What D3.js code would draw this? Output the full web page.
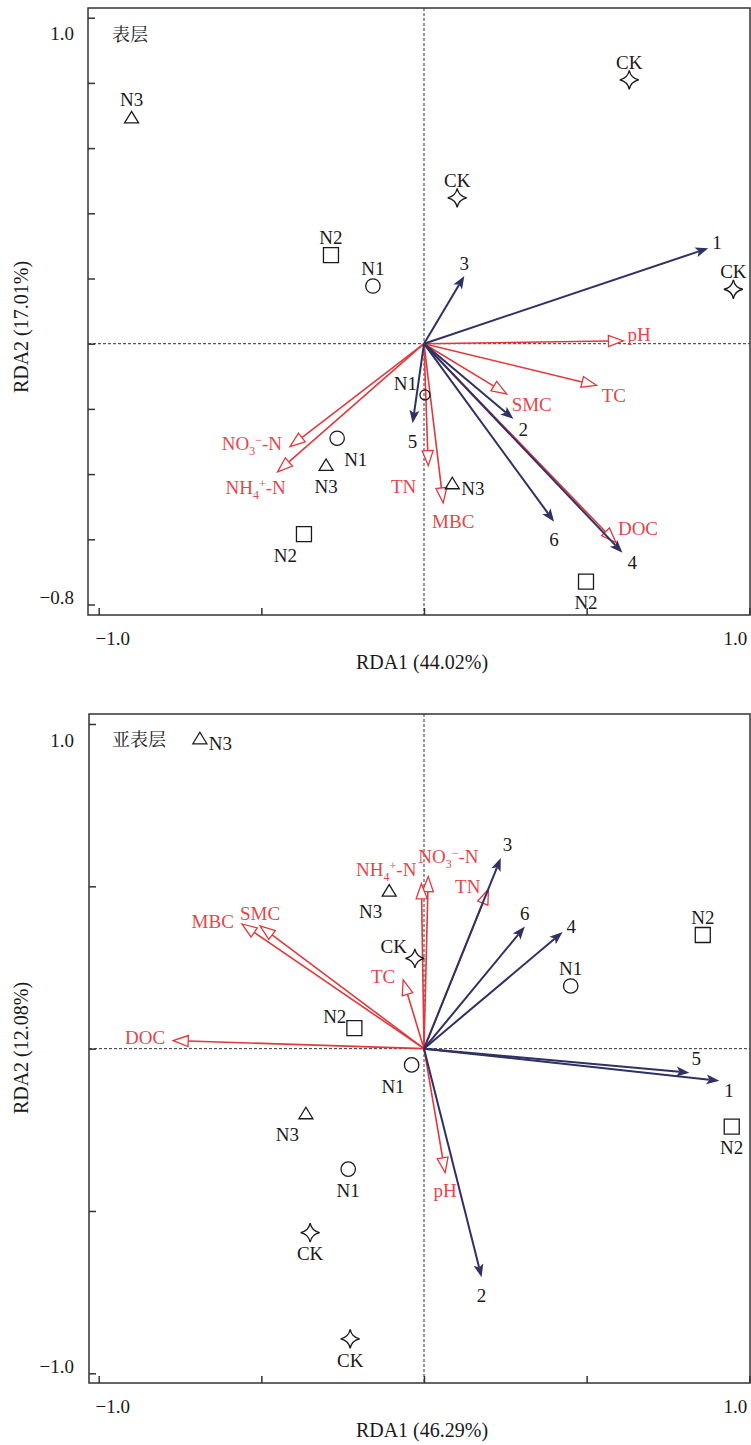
<!DOCTYPE html>
<html>
<head>
<meta charset="utf-8">
<script src="https://cdn.jsdelivr.net/npm/d3@7"></script>
<style>
  body { margin: 0; background: #fff; }
</style>
</head>
<body>
<svg id="chart" width="751" height="1445"></svg>
<script>
/* global d3 */

// ---- 表层 : samples
var topSiteNames  = ['N3', 'N2', 'N1', 'CK', 'CK', 'CK', 'N1', 'N3', 'N2', 'N1', 'N3', 'N2'];
var topSiteShapes = ['triangle', 'square', 'circle', 'star', 'star', 'star', 'circle', 'triangle', 'square', 'dot', 'triangle', 'square'];
var topSiteX = [-0.899, -0.286, -0.157, 0.631, 0.102, 0.951, -0.267, -0.301, -0.369, 0.003, 0.087, 0.498];
var topSiteY = [0.694, 0.272, 0.177, 0.809, 0.447, 0.167, -0.290, -0.372, -0.584, -0.157, -0.428, -0.730];
var topSiteLabelAt = ['n', 'n', 'n', 'n', 'n', 'n', 'se', 's', 'sw', 'nw', 'e', 's'];

// ---- 表层 : species arrows
var topSpNames = ['1', '2', '3', '4', '5', '6'];
var topSpX = [0.874, 0.275, 0.124, 0.610, -0.035, 0.400];
var topSpY = [0.293, -0.231, 0.208, -0.641, -0.244, -0.546];
var topSpLabelAt = ['e', 'se', 'n', 'se', 's', 's'];

// ---- 表层 : environment arrows
var topEnvNames = ['pH', 'TC', 'SMC', 'TN', 'MBC', 'DOC', 'NO3', 'NH4'];
var topEnvX = [0.613, 0.531, 0.254, 0.013, 0.059, 0.590, -0.412, -0.450];
var topEnvY = [0.009, -0.128, -0.154, -0.374, -0.488, -0.610, -0.316, -0.393];
var topEnvLabelAt = ['e', 'se', 'se', 'sw', 'sse', 'ne', 'w', 'ssw'];

// ---- 亚表层 : samples
var subSiteNames  = ['N3', 'N3', 'CK', 'N1', 'N2', 'N2', 'N1', 'N2', 'N3', 'N1', 'CK', 'CK'];
var subSiteShapes = ['triangle', 'triangle', 'star', 'circle', 'square', 'square', 'circle', 'square', 'triangle', 'circle', 'star', 'star'];
var subSiteX = [-0.689, -0.107, -0.028, 0.451, 0.857, -0.214, -0.038, 0.946, -0.363, -0.233, -0.350, -0.227];
var subSiteY = [0.956, 0.487, 0.278, 0.193, 0.350, 0.063, -0.050, -0.240, -0.199, -0.371, -0.567, -0.894];
var subSiteLabelAt = ['e', 'sw', 'nw', 'n', 'n', 'nw', 'sw', 's', 'sw', 's', 's', 's'];

// ---- 亚表层 : species arrows
var subSpNames = ['1', '2', '3', '4', '5', '6'];
var subSpX = [0.908, 0.177, 0.236, 0.426, 0.816, 0.310];
var subSpY = [-0.099, -0.704, 0.587, 0.359, -0.074, 0.376];
var subSpLabelAt = ['se', 's', 'ne', 'e', 'ne', 'n'];

// ---- 亚表层 : environment arrows
var subEnvNames = ['pH', 'TC', 'SMC', 'TN', 'MBC', 'DOC', 'NO3', 'NH4'];
var subEnvX = [0.065, -0.064, -0.504, 0.198, -0.560, -0.771, 0.013, -0.008];
var subEnvY = [-0.382, 0.212, 0.378, 0.491, 0.384, 0.025, 0.530, 0.508];
var subEnvLabelAt = ['s', 'w', 'n', 'w', 'w', 'w', 'nne', 'nw'];

// ---- axes
var xTicks = [-1, -0.5, 0, 0.5, 1];
var xTickLabels = [-1, 1];
var topYTicks = [1, 0.8, 0.6, 0.4, 0.2, 0, -0.2, -0.4, -0.6, -0.8];
var topYTickLabels = [1, -0.8];
var subYTicks = [1, 0.5, 0, -0.5, -1];
var subYTickLabels = [1, -1];


var FONT = '"Liberation Serif", "Times New Roman", serif';
var CJK = '"Noto Serif CJK SC", "Noto Sans CJK SC", sans-serif';
var BLUE = '#2f3064';
var RED = '#e0393d';
var RED_TXT = '#e2474b';
var INK = '#1a1a1a';
var FS = 19;

var svg = d3.select('#chart');

var x = d3.scaleLinear().domain([-1, 1]).range([98.7, 749.3]);

// [anchor, dx, dy(centre)]
var siteLabelPos = {
  n: ['middle', 0, -18],
  s: ['middle', 0, 21],
  e: ['start', 9, 5],
  se: ['start', 7, 21],
  sw: ['end', -7, 21],
  nw: ['end', -8, -12]
};

var arrowLabelPos = {
  n: ['middle', 0, -13],
  s: ['middle', 0, 18],
  sse: ['middle', 10, 19],
  ssw: ['middle', -22, 16],
  e: ['start', 4, -6],
  w: ['end', -8, -3],
  ne: ['start', 2, -14],
  nne: ['start', -10, -20],
  se: ['start', 5, 10],
  sw: ['end', -12, 21],
  nw: ['end', -5, -14]
};


function fmt(v) {
  return (v < 0 ? '\u2212' : '') + Math.abs(v).toFixed(1);
}


function shapePath(kind) {
  if (kind === 'square') {
    return 'M-7.5,-7.5H7.5V7.5H-7.5Z';
  }
  if (kind === 'triangle') {
    return 'M0,-6L7,5.5H-7Z';
  }
  if (kind === 'star') {
    return 'M0,-9.5Q1.6,-1.6 9.5,0Q1.6,1.6 0,9.5Q-1.6,1.6 -9.5,0Q-1.6,-1.6 0,-9.5Z';
  }
  var r = kind === 'dot' ? 5 : 7.2;
  return d3.arc()({ innerRadius: 0, outerRadius: r, startAngle: 0, endAngle: 2 * Math.PI });
}


function addLabel(g, name, px, py, pos, color) {
  var t = g.append('text')
    .attr('x', px + pos[1])
    .attr('y', py + pos[2] + FS * 0.35)
    .attr('text-anchor', pos[0])
    .attr('fill', color)
    .style('font-family', FONT)
    .style('font-size', FS + 'px');

  if (name === 'NO3' || name === 'NH4') {
    t.append('tspan').text(name.substring(0, 2));
    t.append('tspan').text(name.substring(2)).attr('dy', 5).style('font-size', '12px');
    t.append('tspan').text(name === 'NO3' ? '\u2212' : '+').attr('dy', -11).style('font-size', '12px');
    t.append('tspan').text('-N').attr('dy', 6);
  } else {
    t.text(name);
  }
}


function drawArrow(g, x0, y0, x1, y1, kind) {
  var ang = Math.atan2(y1 - y0, x1 - x0) * 180 / Math.PI;
  var len = Math.hypot(x1 - x0, y1 - y0);
  var back = kind === 'env' ? 15 : 10;

  var a = g.append('g').attr('transform', 'translate(' + x0 + ',' + y0 + ') rotate(' + ang + ')');

  a.append('line')
    .attr('x1', 0).attr('y1', 0)
    .attr('x2', len - back).attr('y2', 0)
    .attr('stroke', kind === 'env' ? RED : BLUE)
    .attr('stroke-width', kind === 'env' ? 1.6 : 2);

  if (kind === 'env') {
    a.append('path')
      .attr('d', ['M', len, 0, 'L', len - 15, -5.5, 'L', len - 15, 5.5, 'Z'].join(' '))
      .attr('fill', '#fff')
      .attr('stroke', RED)
      .attr('stroke-width', 1.3);
  } else {
    a.append('path')
      .attr('d', ['M', len, 0, 'L', len - 13, -5, 'L', len - 10, 0, 'L', len - 13, 5, 'Z'].join(' '))
      .attr('fill', BLUE);
  }
}


function drawPanel(p) {
  var y = d3.scaleLinear().domain([p.yLo, p.yHi]).range(p.yRange);
  var g = svg.append('g');

  var left = p.frame[0];
  var top = p.frame[1];
  var right = p.frame[2];
  var bottom = p.frame[3];

  // dashed zero lines
  g.append('line')
    .attr('x1', x(0)).attr('x2', x(0))
    .attr('y1', top).attr('y2', bottom)
    .attr('stroke', '#333').attr('stroke-width', 1)
    .attr('stroke-dasharray', '3,2');
  g.append('line')
    .attr('x1', left).attr('x2', right)
    .attr('y1', y(0)).attr('y2', y(0))
    .attr('stroke', '#333').attr('stroke-width', 1)
    .attr('stroke-dasharray', '3,2');

  // frame
  g.append('rect')
    .attr('x', left).attr('y', top)
    .attr('width', right - left).attr('height', bottom - top)
    .attr('fill', 'none')
    .attr('stroke', '#333')
    .attr('stroke-width', 1.5);

  // inward ticks
  g.append('g')
    .attr('transform', 'translate(0,' + bottom + ')')
    .call(d3.axisBottom(x).tickValues(xTicks).tickSize(-7).tickSizeOuter(0).tickFormat(''))
    .call(function (ax) { ax.select('.domain').remove(); })
    .selectAll('line').attr('stroke', '#333').attr('stroke-width', 1.5);

  g.append('g')
    .attr('transform', 'translate(' + left + ',0)')
    .call(d3.axisLeft(y).tickValues(p.yTicks).tickSize(-7).tickSizeOuter(0).tickFormat(''))
    .call(function (ax) { ax.select('.domain').remove(); })
    .selectAll('line').attr('stroke', '#333').attr('stroke-width', 1.5);

  // tick labels
  xTickLabels.forEach(function (v) {
    g.append('text')
      .attr('x', x(v) - v * 14)
      .attr('y', bottom + 23 + FS * 0.35)
      .attr('text-anchor', 'middle')
      .attr('fill', INK)
      .style('font-family', FONT).style('font-size', FS + 'px')
      .text(fmt(v));
  });

  p.yTickLabels.forEach(function (v) {
    g.append('text')
      .attr('x', 74)
      .attr('y', y(v) + (v > 0 ? 16 : -7) + FS * 0.35)
      .attr('text-anchor', 'end')
      .attr('fill', INK)
      .style('font-family', FONT).style('font-size', FS + 'px')
      .text(fmt(v));
  });

  // axis titles
  g.append('text')
    .attr('x', 422).attr('y', bottom + 47 + 7)
    .attr('text-anchor', 'middle')
    .attr('fill', INK)
    .style('font-family', FONT).style('font-size', '20px')
    .text(p.xTitle);

  g.append('text')
    .attr('transform', 'translate(28,' + p.yTitleAt + ') rotate(-90)')
    .attr('text-anchor', 'middle')
    .attr('fill', INK)
    .style('font-family', FONT).style('font-size', '20px')
    .text(p.yTitle);

  // panel caption
  g.append('text')
    .attr('x', 112).attr('y', p.captionAt + 6)
    .attr('fill', INK)
    .style('font-family', CJK).style('font-size', '18px')
    .text(p.caption);

  var x0 = x(0);
  var y0 = y(0);

  // environment arrows
  p.envNames.forEach(function (n, i) {
    drawArrow(g, x0, y0, x(p.envX[i]), y(p.envY[i]), 'env');
  });

  // species arrows
  p.spNames.forEach(function (n, i) {
    drawArrow(g, x0, y0, x(p.spX[i]), y(p.spY[i]), 'sp');
  });

  p.envNames.forEach(function (n, i) {
    addLabel(g, n, x(p.envX[i]), y(p.envY[i]), arrowLabelPos[p.envLabelAt[i]], RED_TXT);
  });

  p.spNames.forEach(function (n, i) {
    addLabel(g, n, x(p.spX[i]), y(p.spY[i]), arrowLabelPos[p.spLabelAt[i]], INK);
  });

  // samples
  p.siteNames.forEach(function (n, i) {
    var sx = x(p.siteX[i]);
    var sy = y(p.siteY[i]);

    g.append('path')
      .attr('d', shapePath(p.siteShapes[i]))
      .attr('transform', 'translate(' + sx + ',' + sy + ')')
      .attr('fill', 'none')
      .attr('stroke', INK)
      .attr('stroke-width', 1.3);

    addLabel(g, n, sx, sy, siteLabelPos[p.siteLabelAt[i]], INK);
  });
}


drawPanel({
  yLo: -0.8, yHi: 1.0, yRange: [604.5, 17.7],
  frame: [88, 8, 750, 615],
  yTicks: topYTicks, yTickLabels: topYTickLabels,
  xTitle: 'RDA1 (44.02%)', yTitle: 'RDA2 (17.01%)', yTitleAt: 327,
  caption: '表层', captionAt: 35,
  siteNames: topSiteNames, siteShapes: topSiteShapes, siteX: topSiteX, siteY: topSiteY, siteLabelAt: topSiteLabelAt,
  spNames: topSpNames, spX: topSpX, spY: topSpY, spLabelAt: topSpLabelAt,
  envNames: topEnvNames, envX: topEnvX, envY: topEnvY, envLabelAt: topEnvLabelAt
});

drawPanel({
  yLo: -1.0, yHi: 1.0, yRange: [1373.3, 724],
  frame: [89, 714, 750, 1383],
  yTicks: subYTicks, yTickLabels: subYTickLabels,
  xTitle: 'RDA1 (46.29%)', yTitle: 'RDA2 (12.08%)', yTitleAt: 1048,
  caption: '亚表层', captionAt: 740,
  siteNames: subSiteNames, siteShapes: subSiteShapes, siteX: subSiteX, siteY: subSiteY, siteLabelAt: subSiteLabelAt,
  spNames: subSpNames, spX: subSpX, spY: subSpY, spLabelAt: subSpLabelAt,
  envNames: subEnvNames, envX: subEnvX, envY: subEnvY, envLabelAt: subEnvLabelAt
});
</script>
</body>
</html>
